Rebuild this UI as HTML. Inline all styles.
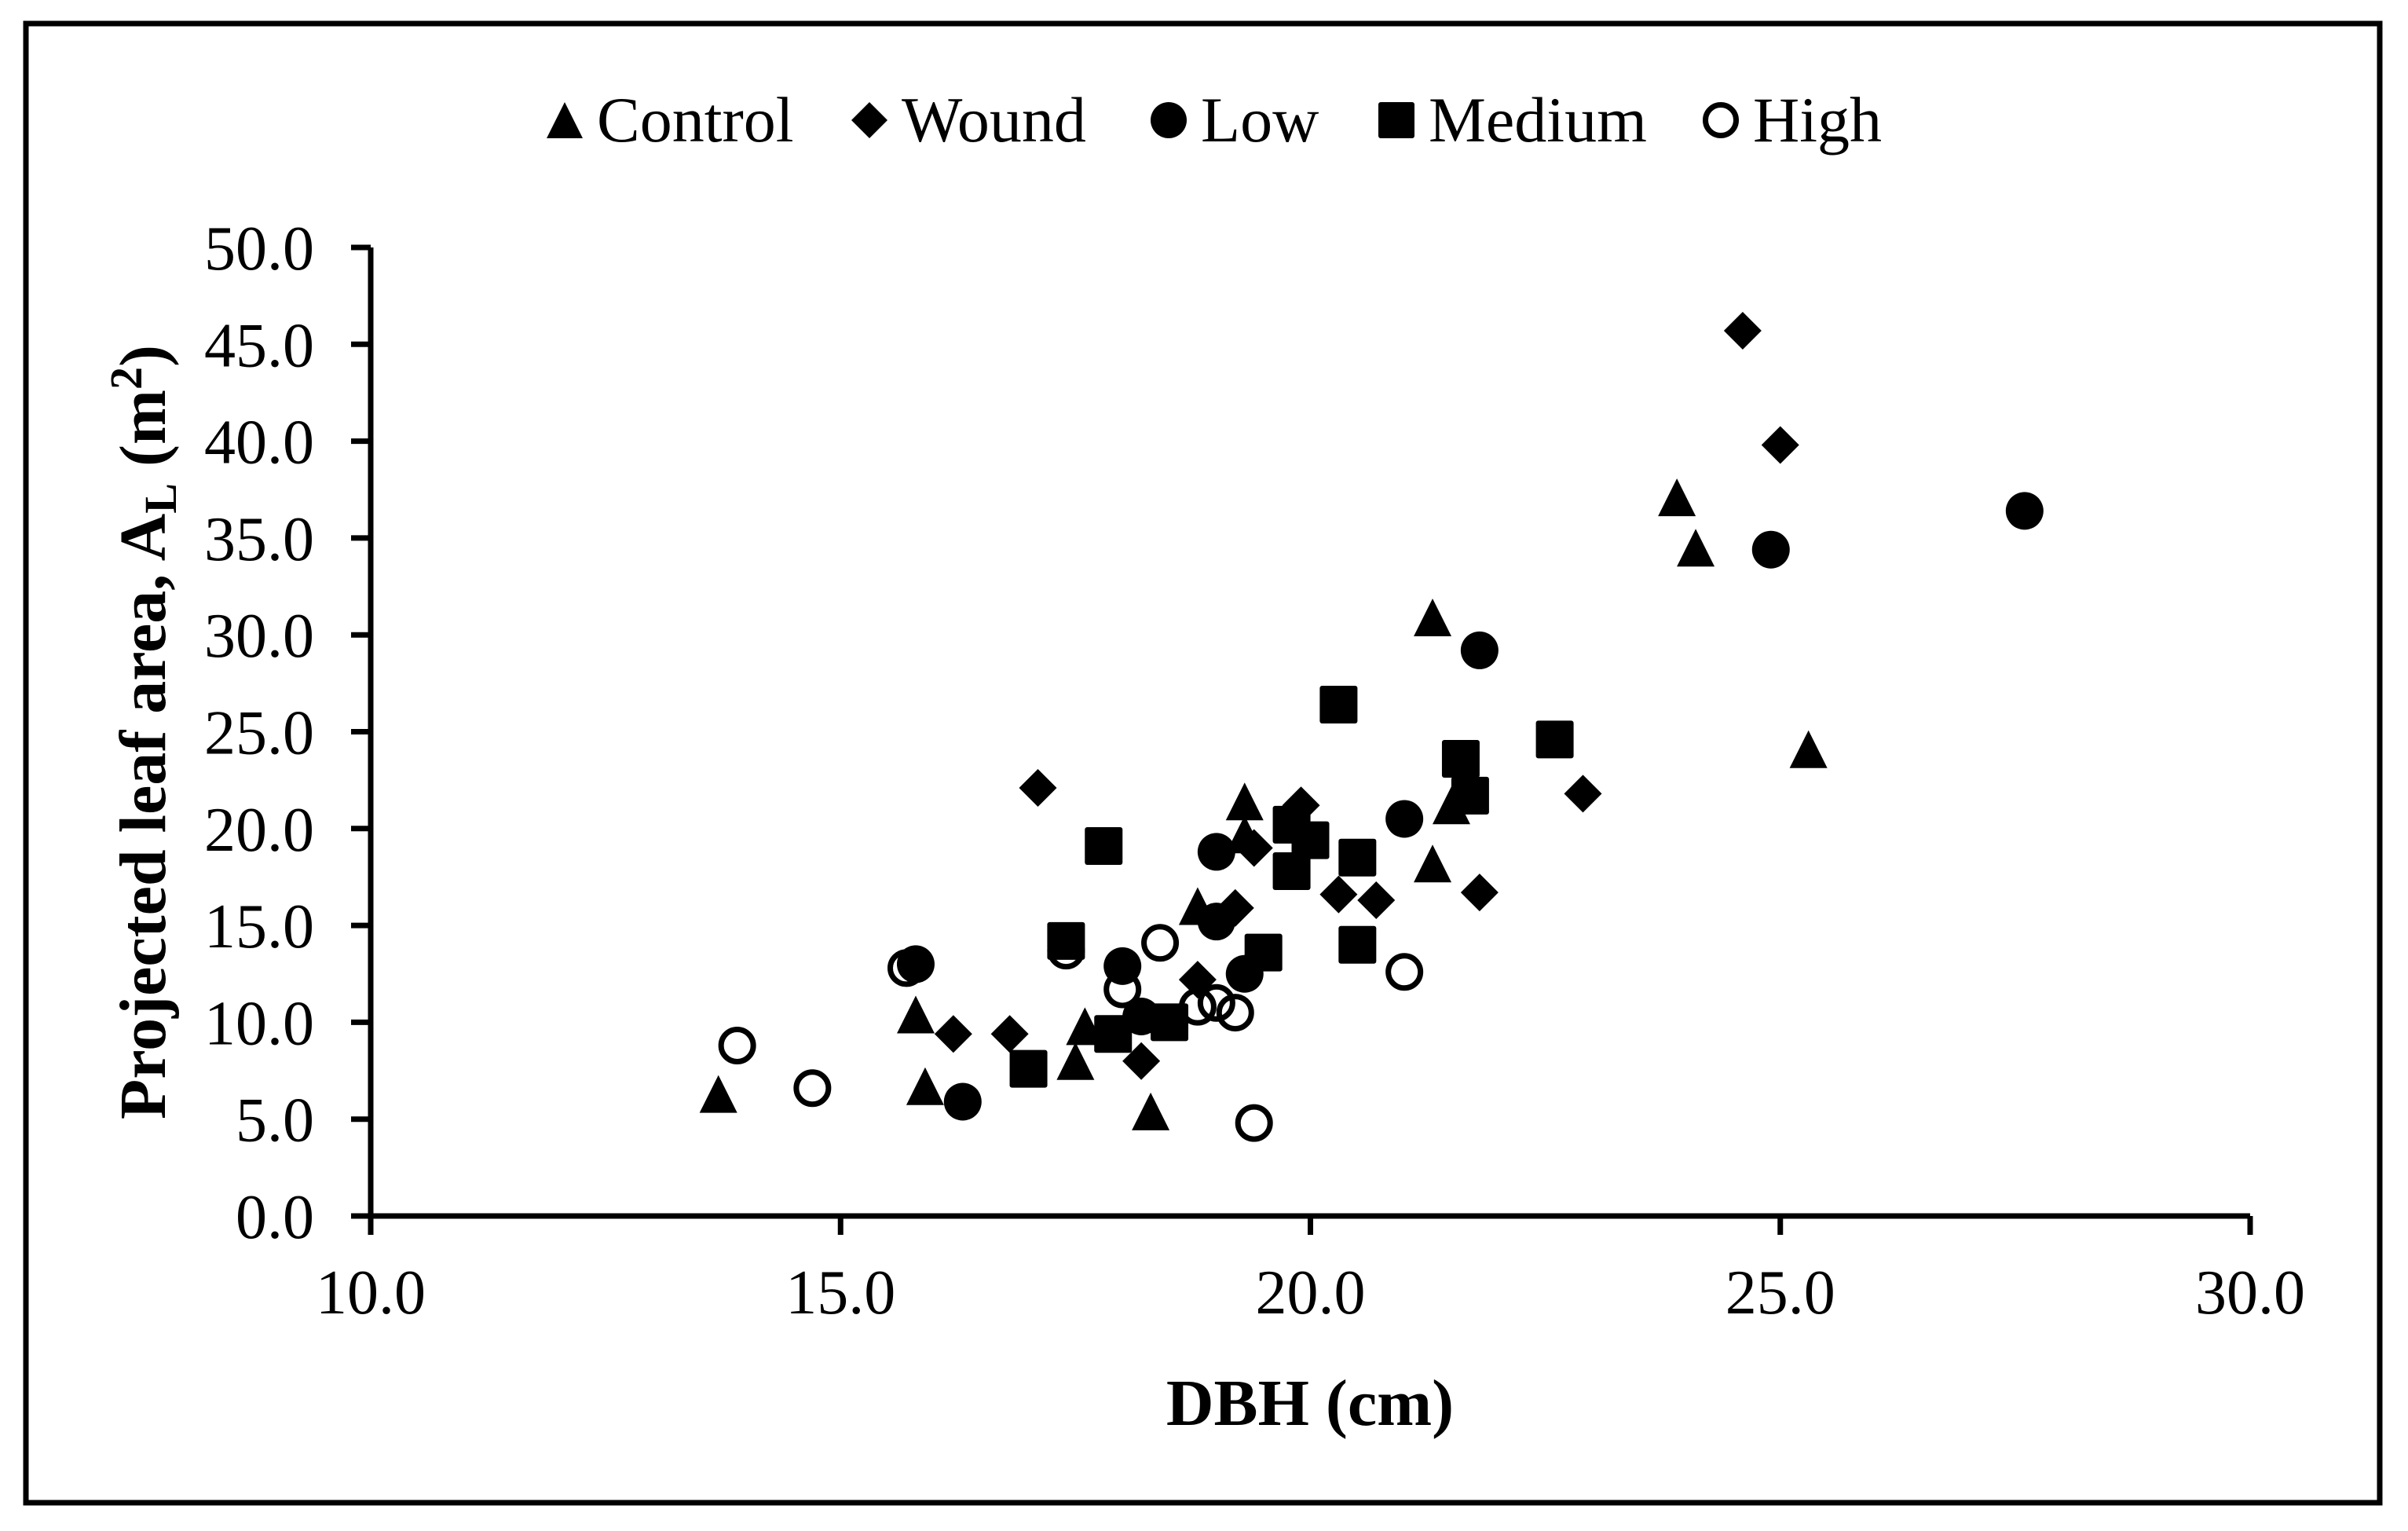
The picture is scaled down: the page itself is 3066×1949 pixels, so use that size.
<!DOCTYPE html>
<html><head><meta charset="utf-8"><style>
html,body{margin:0;padding:0;background:#fff}
svg{display:block}
text{font-family:"Liberation Serif",serif;fill:#000}
</style></head><body>
<svg id="chart" width="3066" height="1949" viewBox="0 0 3066 1949" xmlns="http://www.w3.org/2000/svg">
<rect x="33" y="30" width="2997" height="1883" fill="#fff" stroke="#000" stroke-width="7"/>
<g id="axes"></g>
<g id="marks"></g>
<g id="legend"></g>
<text x="1668" y="1814" font-size="84" font-weight="bold" text-anchor="middle">DBH (cm)</text>
<text transform="translate(210,932) rotate(-90)" font-size="84" font-weight="bold" text-anchor="middle">Projected leaf area, A<tspan font-size="58" dy="14">L</tspan><tspan dy="-14"> (m</tspan><tspan font-size="58" dy="-30">2</tspan><tspan dy="30">)</tspan></text>
</svg>
<script>
const xTicks=[10,15,20,25,30];
const yTicks=[0,5,10,15,20,25,30,35,40,45,50];
const seriesNames=["Control","Wound","Low","Medium","High"];
const controlX=[13.7,15.8,15.9,17.5,17.6,18.3,18.8,19.3,19.3,21.3,21.3,21.5,23.9,24.1,25.3];
const controlY=[6.3,10.4,6.7,8.0,9.8,5.4,16.0,21.4,19.7,30.9,18.2,21.2,37.1,34.5,24.1];
const woundX=[17.1,16.2,16.8,18.2,18.8,19.2,19.4,19.9,20.3,20.7,21.8,22.9,24.6,25.0];
const woundY=[22.1,9.4,9.4,8.0,12.2,15.9,19.0,21.2,16.6,16.3,16.7,21.8,45.7,39.8];
const lowX=[15.8,16.3,18.0,18.2,19.0,19.0,19.3,21.0,21.8,24.9,27.6];
const lowY=[13.0,5.9,12.9,10.3,18.8,15.2,12.5,20.5,29.2,34.4,36.4];
const mediumX=[17.0,17.4,17.8,17.9,18.5,19.5,19.8,19.8,20.0,20.3,20.5,20.5,21.6,21.7,22.6];
const mediumY=[7.6,14.2,19.1,9.4,10.0,13.6,17.8,20.2,19.4,26.4,18.5,14.0,23.6,21.7,24.6];
const highX=[13.9,14.7,15.7,17.4,18.0,18.4,18.8,19.0,19.2,19.4,21.0];
const highY=[8.8,6.6,12.8,13.7,11.7,14.1,10.8,11.0,10.5,4.8,12.6];

const NS="http://www.w3.org/2000/svg";
const X0=472,X1=2865,Y0=1548,Y1=315;
function sx(v){return X0+(v-10)/20*(X1-X0);}
function sy(v){return Y0-(v-0)/50*(Y0-Y1);}
function mk(tag,attrs,parent){const e=document.createElementNS(NS,tag);for(const k in attrs)e.setAttribute(k,attrs[k]);parent.appendChild(e);return e;}
const axes=document.getElementById('axes');
let l=mk('line',{x1:X0,y1:Y0,x2:X1,y2:Y0,stroke:'#000','stroke-width':7},axes);


l=mk('line',{x1:X0,y1:Y0,x2:X0,y2:Y1,stroke:'#000','stroke-width':7},axes);


xTicks.forEach(t=>{
  const tk=mk('line',{x1:sx(t),y1:Y0,x2:sx(t),y2:Y0+24,stroke:'#000','stroke-width':7},axes);
  
  
  const tx=mk('text',{x:sx(t),y:1672,'font-size':80,'text-anchor':'middle'},axes);
  tx.textContent=t.toFixed(1);
  
  
});
yTicks.forEach(t=>{
  const tk=mk('line',{x1:X0-25,y1:sy(t),x2:X0,y2:sy(t),stroke:'#000','stroke-width':7},axes);
  
  
  const tx=mk('text',{x:400,y:sy(t)+28,'font-size':80,'text-anchor':'end'},axes);
  tx.textContent=t.toFixed(1);
  
  
});
function marker(type,cx,cy,s,parent){
  const h=s/2;let e;
  if(type==='Control')e=mk('path',{d:`M${cx},${cy-h} L${cx+h},${cy+h} L${cx-h},${cy+h} Z`,fill:'#000','stroke-linejoin':'round'},parent);
  else if(type==='Wound')e=mk('path',{d:`M${cx},${cy-h} L${cx+h},${cy} L${cx},${cy+h} L${cx-h},${cy} Z`,fill:'#000'},parent);
  else if(type==='Low')e=mk('circle',{cx:cx,cy:cy,r:h,fill:'#000'},parent);
  else if(type==='Medium')e=mk('rect',{x:cx-h,y:cy-h,width:s,height:s,rx:3,fill:'#000'},parent);
  else e=mk('circle',{cx:cx,cy:cy,r:h-3.5,fill:'none',stroke:'#000','stroke-width':7},parent);
  return e;
}
const marks=document.getElementById('marks');
const sets=[["Control",controlX,controlY],["Wound",woundX,woundY],["Low",lowX,lowY],["Medium",mediumX,mediumY],["High",highX,highY]];
sets.forEach(([n,xs,ys])=>{
  const g=mk('g',{},marks);
  
  
  xs.forEach((v,i)=>{
    const m=marker(n,sx(v),sy(ys[i]),48,g);
    
    
  });
});
const legend=document.getElementById('legend');
const lx=[719,1107,1488,1778,2191];
seriesNames.forEach((n,i)=>{
  const g=mk('g',{},legend);
  
  
  const m=marker(n,lx[i],153,46,g);
  
  
  const t=mk('text',{x:lx[i]+41,y:180,'font-size':82},g);
  t.textContent=n;
  
  
});
</script>
</body></html>
